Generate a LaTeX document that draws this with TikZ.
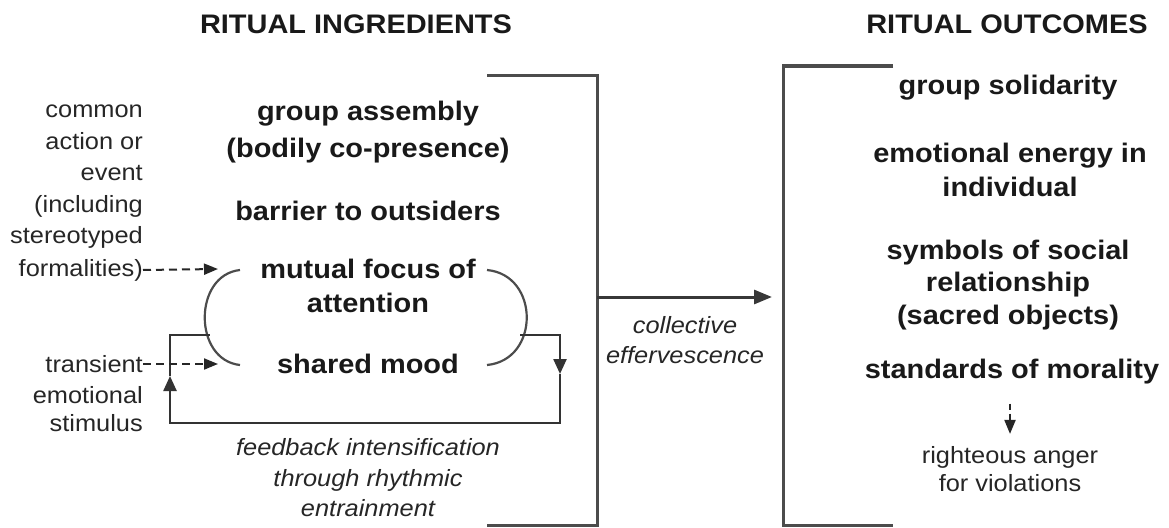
\documentclass[tikz,border=0pt]{standalone}
\usepackage{fontspec}
\setmainfont{Liberation Sans}[FakeStretch=1.08]
\usetikzlibrary{arrows.meta}
\begin{document}
\begin{tikzpicture}[x=1pt,y=-1pt,
  bigtxt/.style={font=\fontsize{26.8}{34}\selectfont\bfseries, text=black!90, inner sep=0pt, align=center},
  smalltxt/.style={font=\fontsize{23.5}{31.5}\selectfont, text=black!85, inner sep=0pt},
  itxt/.style={font=\fontsize{23.5}{30.5}\selectfont\itshape, text=black!85, inner sep=0pt, align=center},
  bracket/.style={draw=black!70, line width=3pt},
  arcline/.style={draw=black!70, line width=2.2pt},
  loopline/.style={draw=black!80, line width=2.4pt},
  looptip/.style={-{Triangle[length=15pt,width=13pt]}},
  dasharrow/.style={draw=black!85, line width=2pt, dash pattern=on 8pt off 5pt, -{Triangle[length=14pt,width=11pt]}},
  mainarrow/.style={draw=black!78, line width=3pt, -{Triangle[length=18pt,width=14pt]}},
]
\useasboundingbox (0,0) rectangle (1169,527);

% titles
\node[bigtxt] (t1) at (356,24) {RITUAL INGREDIENTS};
\node[bigtxt] (t2) at (1007,24) {RITUAL OUTCOMES};

% ingredients
\node[bigtxt, font=\fontsize{26.8}{37}\selectfont\bfseries] (ga) at (368,132) {group assembly\\(bodily co-presence)};
\node[bigtxt] (bar) at (368,211) {barrier to outsiders};
\node[bigtxt] (mf) at (368,286) {mutual focus of\\attention};
\node[bigtxt] (sm) at (368,364) {shared mood};

% outcomes
\node[bigtxt] (gs) at (1008,88) {group solidarity};
\node[bigtxt] (ee) at (1010,170) {emotional energy in\\individual};
\node[bigtxt, font=\fontsize{26.8}{32.5}\selectfont\bfseries] (sy) at (1008,285) {symbols of social\\relationship\\(sacred objects)};
\node[bigtxt] (sd) at (1012,372) {standards of morality};
\node[smalltxt, align=center, font=\fontsize{23.5}{28.5}\selectfont] (ra) at (1010,469) {righteous anger\\for violations};

% left column
\node[smalltxt, align=right, anchor=east] (ca) at (143,177) {common\\action or\\event\\(including\\stereotyped};
\node[smalltxt, anchor=east] (fo) at (143,270) {formalities)};
\node[smalltxt, anchor=east] (tr) at (143,364) {transient};
\node[smalltxt, align=right, anchor=east, font=\fontsize{23.5}{28.5}\selectfont] (em) at (143,409) {emotional\\stimulus};

% italic labels
\node[itxt] (fb) at (368,478) {feedback intensification\\through rhythmic\\entrainment};
\node[itxt] (ce) at (685,340) {collective\\effervescence};

% arcs
\coordinate (lt) at (240,270);
\coordinate (lb) at (240,365);
\coordinate (rt) at (487,270);
\coordinate (rb) at (487,365);
\draw[arcline] (lt) .. controls (193,275) and (193,360) .. (lb);
\draw[arcline] (rt) .. controls (540,275) and (540,360) .. (rb);

% feedback loop
\coordinate (la) at (210,335);
\coordinate (ra1) at (520,335);
\coordinate (dn) at (560,374);
\coordinate (up) at (170,376);
\draw[loopline, looptip] (ra1) -| (dn);
\draw[loopline, looptip] (dn) |- (170,423) -- (up);
\draw[loopline] (up) |- (la);

% dashed inputs
\coordinate (fa) at (218,269);
\coordinate (ta) at (218,364);
\draw[dasharrow] (fo.east) -- (fa);
\draw[dasharrow] (tr.east) -- (ta);

% brackets
\draw[bracket] (487,75) -- (597,75) -- (597,525) -- (487,525);
\draw[bracket] (893,66) -- (783,66) -- (783,525) -- (893,525);

% main arrow
\coordinate (ms) at (597,297);
\coordinate (me) at (772,297);
\draw[mainarrow] (ms) -- (me);

% morality arrow
\draw[dasharrow, dash pattern=on 6pt off 4pt, shorten <=19pt, shorten >=12pt] (sd.south -| ra.north) -- (ra.north);
\end{tikzpicture}
\end{document}
